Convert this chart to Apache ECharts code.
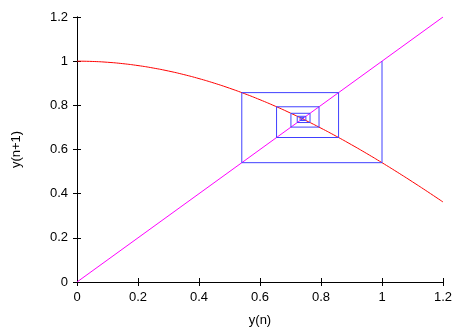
<!DOCTYPE html>
<html><head><meta charset="utf-8">
<script src="https://cdn.jsdelivr.net/npm/echarts@6/dist/echarts.min.js"></script>
<style>html,body{margin:0;padding:0;background:#fff}#c{width:467px;height:327px}</style>
</head><body><div id="c"></div>
<script>
var curveX = [0,0.05,0.1,0.15,0.2,0.25,0.3,0.35,0.4,0.45,0.5,0.55,0.6,0.65,0.7,0.75,0.8,0.85,0.9,0.95,1.0,1.05,1.1,1.15,1.2];
var curveY = [1,0.99875,0.995,0.98877,0.98007,0.96891,0.95534,0.93937,0.92106,0.90045,0.87758,0.85252,0.82534,0.79608,0.76484,0.73169,0.69671,0.65998,0.62161,0.58168,0.5403,0.49757,0.4536,0.40849,0.36236];
var diagX = [0, 1.2];
var diagY = [0, 1.2];
var iterates = [1,0.5403,0.8576,0.6543,0.7935,0.7014,0.7640,0.7221,0.7504,0.7314,0.7442,0.7356,0.7414,0.7375,0.7401,0.7384,0.7396,0.7388,0.7393,0.7390];
var tickLabels = ['0','0.2','0.4','0.6','0.8','1','1.2'];

function zip(a,b){return a.map(function(v,i){return [v,b[i]];});}
var cob = [[iterates[0], iterates[0]]];
for (var i=0;i<iterates.length-1;i++){
  cob.push([iterates[i], iterates[i+1]]);
  cob.push([iterates[i+1], iterates[i+1]]);
}
var font = 'Liberation Sans, Arial, sans-serif';
var chart = echarts.init(document.getElementById('c'));
var fmt = function(v){return tickLabels[Math.round(v/0.2)];};
chart.setOption({
  animation:false,
  grid:{left:77,right:24,top:17,bottom:45,containLabel:false,outerBoundsMode:'none'},
  xAxis:[{type:'value',min:0,max:1.2,interval:0.2,name:'y(n)',nameLocation:'middle',nameGap:32,
    nameTextStyle:{color:'#000',fontFamily:font,fontSize:13},
    axisLine:{show:true,lineStyle:{color:'#000',width:1}},axisTick:{inside:true,length:4,lineStyle:{color:'#000'}},
    axisLabel:{color:'#000',fontFamily:font,fontSize:13,margin:9,formatter:fmt},splitLine:{show:false}},
   {type:'value',position:'top',min:0,max:1.2,interval:0.2,
    axisLine:{show:true,lineStyle:{color:'#000',width:1}},axisTick:{inside:true,length:4,lineStyle:{color:'#000'}},
    axisLabel:{show:false},splitLine:{show:false}}],
  yAxis:[{type:'value',min:0,max:1.2,interval:0.2,name:'y(n+1)',nameLocation:'middle',nameGap:54,
    nameTextStyle:{color:'#000',fontFamily:font,fontSize:13},
    axisLine:{show:true,lineStyle:{color:'#000',width:1}},axisTick:{inside:true,length:4,lineStyle:{color:'#000'}},
    axisLabel:{color:'#000',fontFamily:font,fontSize:13,margin:9,formatter:fmt},splitLine:{show:false}},
   {type:'value',position:'right',min:0,max:1.2,interval:0.2,
    axisLine:{show:true,lineStyle:{color:'#000',width:1}},axisTick:{inside:true,length:4,lineStyle:{color:'#000'}},
    axisLabel:{show:false},splitLine:{show:false}}],
  series:[
    {type:'line',data:zip(curveX,curveY),showSymbol:false,smooth:true,lineStyle:{color:'#ff0000',width:1}},
    {type:'line',data:zip(diagX,diagY),showSymbol:false,lineStyle:{color:'#ff00ff',width:1}},
    {type:'line',data:cob,showSymbol:false,lineStyle:{color:'#4040ff',width:1}}
  ]
});
</script></body></html>
